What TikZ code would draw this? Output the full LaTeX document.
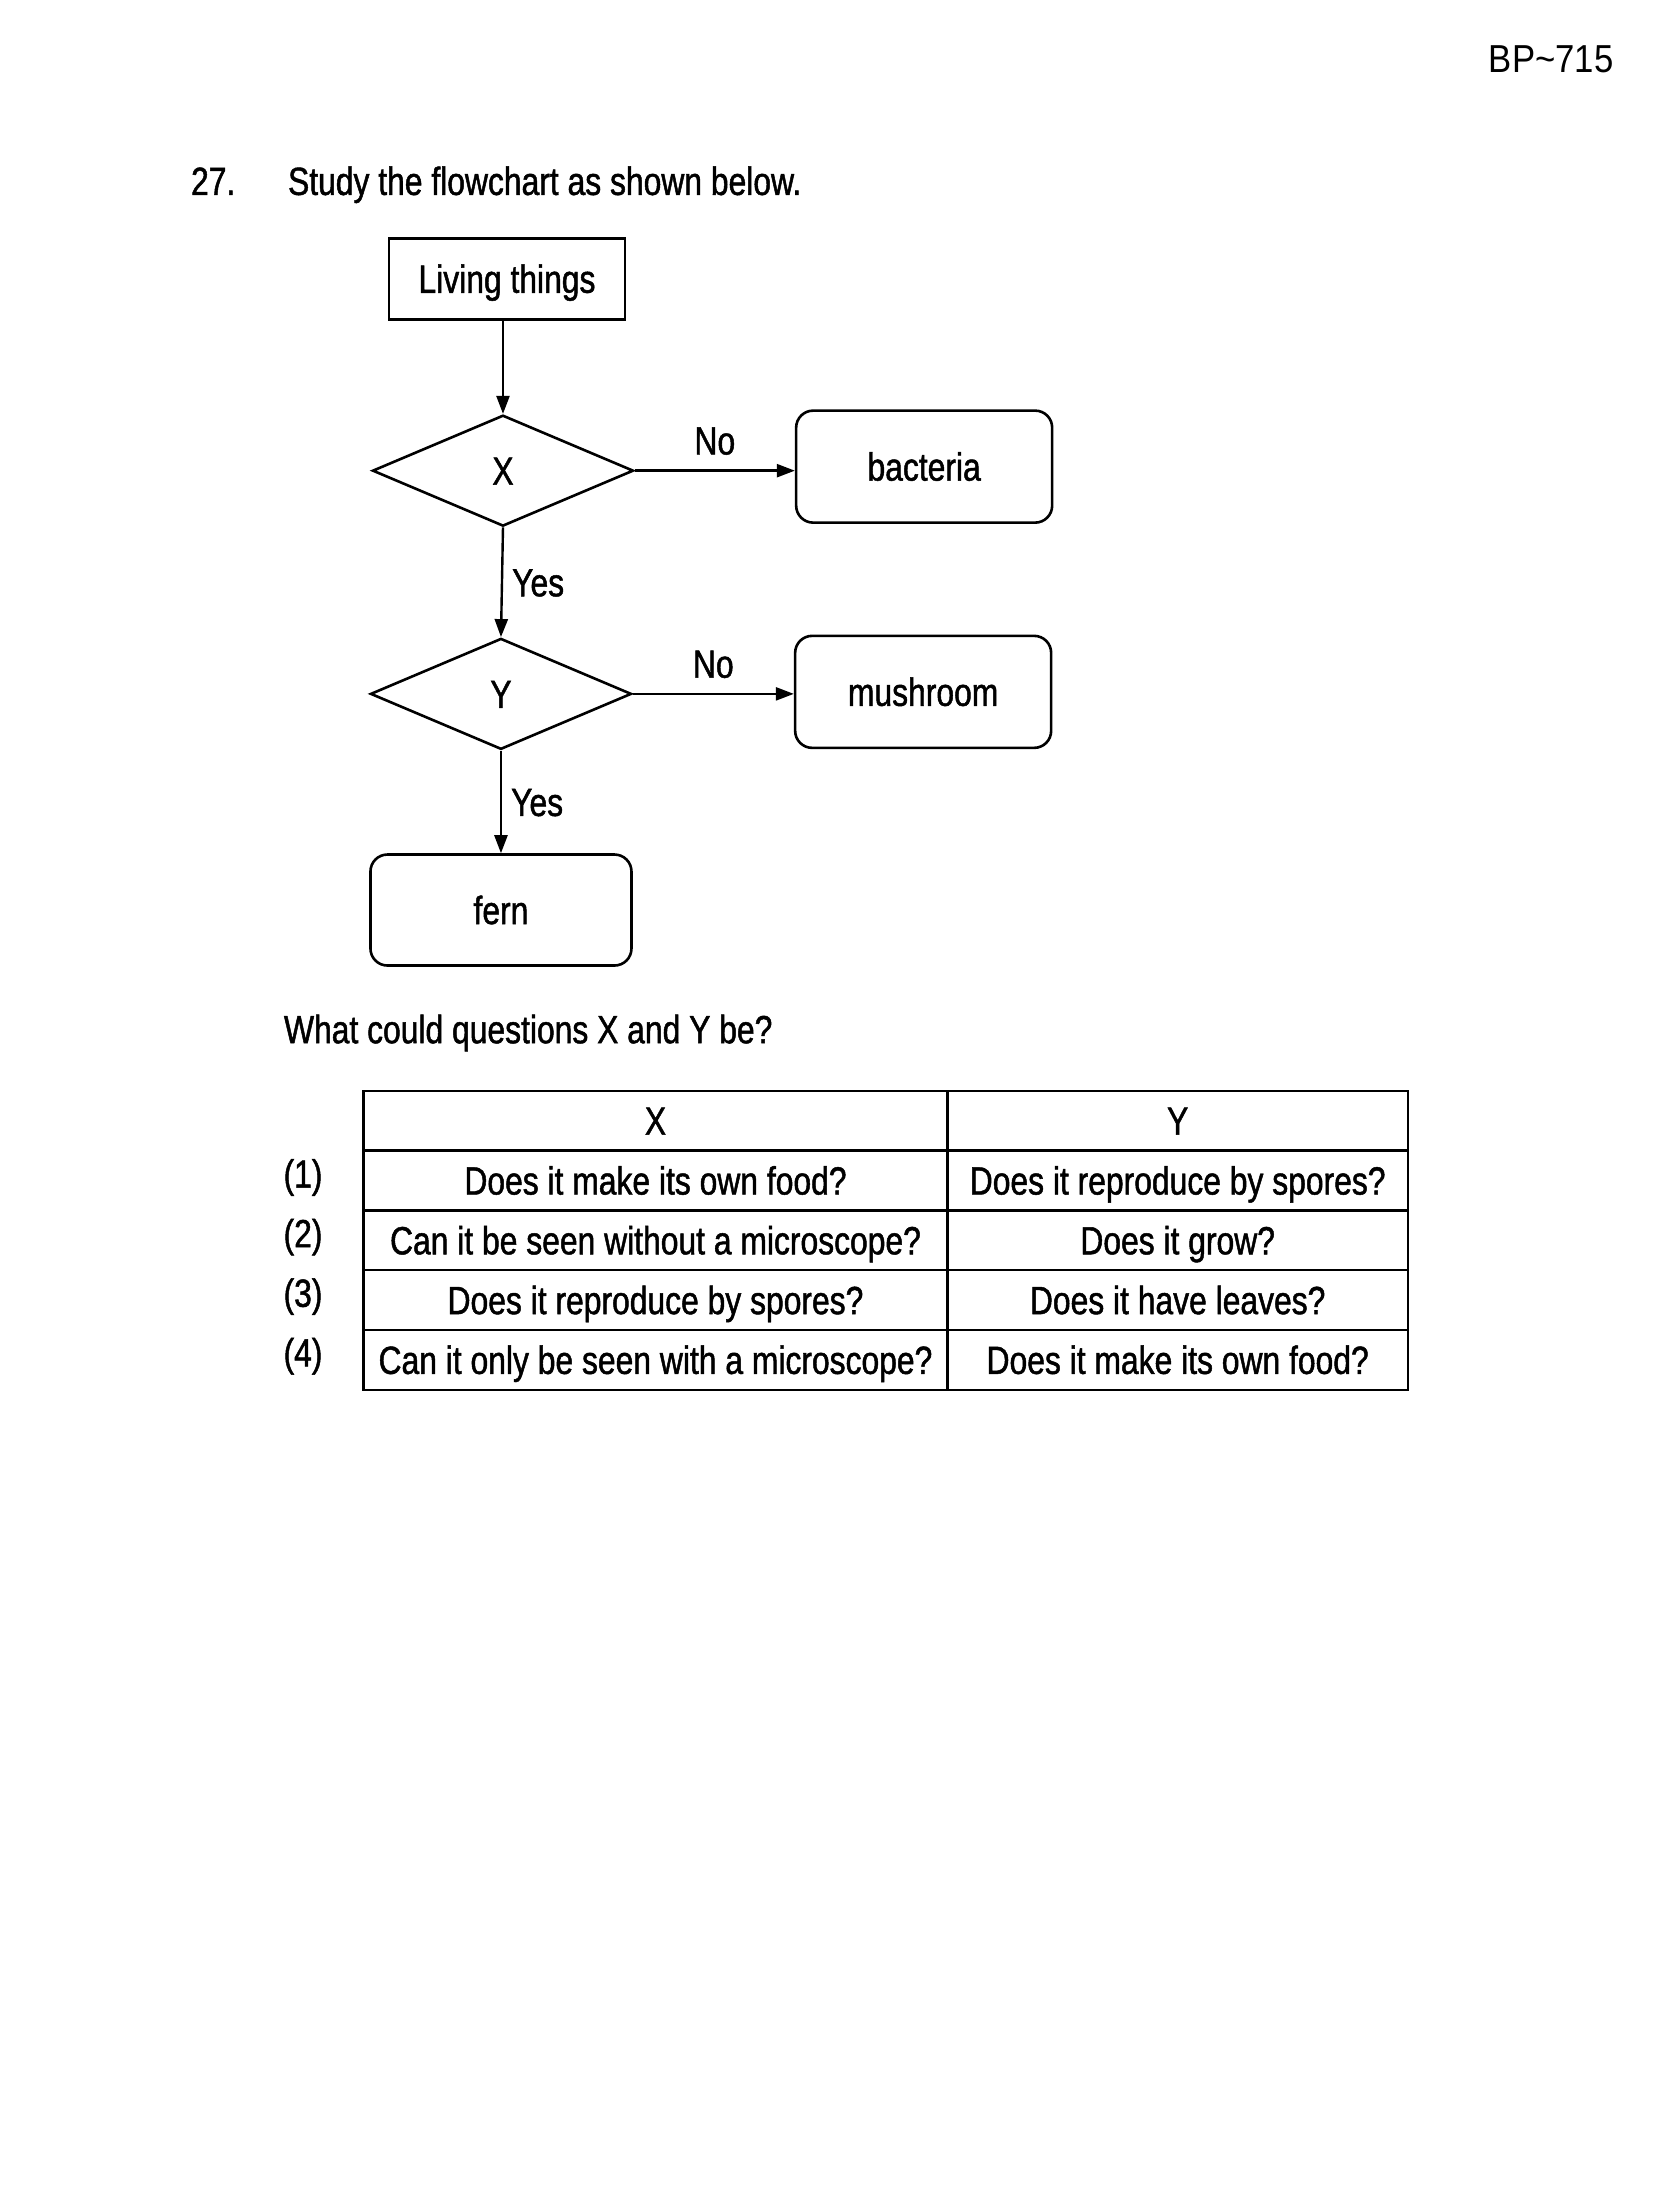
\documentclass[tikz,border=0pt]{standalone}
\usepackage{fontspec}
\setmainfont{Liberation Sans}[FakeStretch=0.81,FakeBold=1.2]
\newfontfamily\hdrfont{Liberation Sans}[FakeStretch=0.89]
\usetikzlibrary{shapes.geometric,arrows.meta}
\begin{document}
\begin{tikzpicture}[x=1.01pt,y=-1.01pt,
  txt/.style={font=\fontsize{39.3}{47}\selectfont, inner sep=0pt, text height=28pt, text depth=0pt},
  sqbox/.style={txt, draw, line width=2.6pt, minimum width=236pt, minimum height=81pt},
  rbox/.style={txt, draw, line width=2.6pt, rounded corners=17pt, minimum width=256pt, minimum height=112pt},
  dia/.style={txt, draw, diamond, line width=2.6pt, minimum width=261pt, minimum height=111pt},
  arr/.style={line width=2.4pt, -{Triangle[length=18pt,width=13pt]}},
  lbl/.style={txt},
  cellx/.style={txt, draw, line width=2.4pt, minimum width=584pt, minimum height=59.8pt},
  celly/.style={txt, draw, line width=2.4pt, minimum width=461pt, minimum height=59.8pt},
]
\useasboundingbox (0,0) rectangle (1637.6,2178.2);

\node[font=\hdrfont\fontsize{39}{47}\selectfont, inner sep=0pt, anchor=base west] (bp) at (1474,72) {BP\textasciitilde715};

\node[txt, anchor=base west] (qn) at (189,193) {27.};
\node[txt, anchor=base west] (qt) at (285,193) {Study the flowchart as shown below.};

% flowchart
\node[sqbox] (lt) at (502,276) {Living things};
\node[dia] (dx) at (498,466) {X};
\node[rbox] (bac) at (915,462) {bacteria};
\node[dia] (dy) at (496,687) {Y};
\node[rbox] (mush) at (914,685) {mushroom};
\node[rbox, minimum width=261pt, minimum height=111pt] (fern) at (496,901) {fern};

\draw[arr] (lt.south -| dx.north) -- (dx.north);
\draw[arr] (dx.east) -- node[lbl, above=15pt] (no1) {No} (dx.east -| bac.west);
\draw[arr] (dx.south) -- node[lbl, right=9pt] (yes1) {Yes} (dy.north);
\draw[arr] (dy.east) -- node[lbl, above=15pt] (no2) {No} (dy.east -| mush.west);
\draw[arr] (dy.south) -- node[lbl, right=9pt] (yes2) {Yes} (fern.north);

\node[txt, anchor=west] (ask) at (281,1019) {What could questions X and Y be?};

% table
\node[cellx] (hx) at (649,1109.6) {X};
\node[celly] (hy) at (1166,1109.6) {Y};
\node[cellx] (a1) at (649,1168.8) {Does it make its own food?};
\node[celly] (b1) at (1166,1168.8) {Does it reproduce by spores?};
\node[cellx] (a2) at (649,1228) {Can it be seen without a microscope?};
\node[celly] (b2) at (1166,1228) {Does it grow?};
\node[cellx] (a3) at (649,1287.2) {Does it reproduce by spores?};
\node[celly] (b3) at (1166,1287.2) {Does it have leaves?};
\node[cellx] (a4) at (649,1346.4) {Can it only be seen with a microscope?};
\node[celly] (b4) at (1166,1346.4) {Does it make its own food?};

\node[txt] (n1) at (300,1162) {(1)};
\node[txt] (n2) at (300,1221) {(2)};
\node[txt] (n3) at (300,1280) {(3)};
\node[txt] (n4) at (300,1339) {(4)};
\end{tikzpicture}
\end{document}
